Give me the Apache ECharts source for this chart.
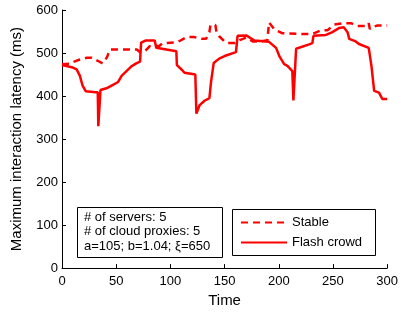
<!DOCTYPE html>
<html>
<head>
<meta charset="utf-8">
<script src="https://cdn.jsdelivr.net/npm/echarts@6/dist/echarts.min.js"></script>
<style>
  html, body { margin: 0; padding: 0; background: #fff; }
  #chart { width: 401px; height: 313px; }
</style>
</head>
<body>
<div id="chart"></div>
<script>
// 数据：读图估计 [时间, 延迟ms]
var stableData = [
    [0, 474], [7, 475], [10, 479], [16.5, 485], [23, 489], [27.5, 489],
    [33, 482], [37.5, 476], [41.5, 490], [44, 508], [69, 508], [72, 502],
    [76, 503], [81, 516], [90, 517], [93, 523], [106, 525], [108.5, 528],
    [115, 537], [122, 537], [129, 533], [133, 533], [136, 549], [137, 565],
    [141.5, 565], [142.5, 549], [145, 539], [150, 527], [152.5, 523],
    [159, 523], [164, 530], [170, 536], [176, 527], [184, 527], [189.5, 530],
    [191, 571], [192, 571], [196, 555], [203, 546], [222, 544], [231, 544],
    [239, 553], [245, 553], [251, 566], [258.5, 569], [267, 569], [272, 563],
    [277, 563], [282, 563], [283, 569], [284, 556], [286, 560], [291, 564],
    [300, 564]
];
var flashData = [
    [0, 472], [9, 467], [13.5, 462], [16.5, 447], [19, 424], [22, 411],
    [31, 409], [33, 409], [33.5, 330], [35, 330], [35.5, 414], [41, 418],
    [47, 426], [51.5, 432], [55, 447], [59.5, 458], [64, 469], [68.5, 476],
    [72, 480], [73, 524], [77, 529], [85.5, 529], [87, 512], [105.5, 504],
    [106, 472], [111, 460], [113, 454], [123, 450], [124, 359], [125, 362],
    [127, 379], [131.5, 389], [136, 395], [137.5, 433], [140, 477],
    [145, 487], [150, 493], [160.5, 502], [162, 540], [170, 541],
    [177.5, 529], [191, 526], [197.5, 512], [200.5, 493], [205, 474],
    [208, 470], [212.5, 458], [213.5, 390], [215, 390], [216, 510],
    [228, 520], [231, 523], [232, 540], [243.5, 542], [249, 548],
    [255.5, 558], [260, 560], [263.5, 548], [265, 533], [271, 527],
    [274, 521], [283, 512], [285.5, 470], [288, 412], [292.5, 408],
    [295.5, 393], [300, 393]
];
var seriesNames = ['Stable', 'Flash crowd'];
var infoLines = ['# of servers: 5', '# of cloud proxies: 5', 'a=105; b=1.04; \u03be=650'];

var FONT = '"Liberation Sans", Arial, sans-serif';
var RED = '#ff0000';

var myChart = echarts.init(document.getElementById('chart'));
var option = {
    animation: false,
    backgroundColor: '#fff',
    grid: { left: 62, right: 13, top: 10, bottom: 42 },
    xAxis: {
        type: 'value',
        min: 0, max: 300, interval: 50,
        name: 'Time',
        nameLocation: 'middle',
        nameGap: 23,
        nameTextStyle: { fontFamily: FONT, fontSize: 15, color: '#000' },
        axisLine: { show: true, lineStyle: { color: '#000', width: 1 } },
        axisTick: { show: true, inside: true, length: 4, lineStyle: { color: '#000' } },
        axisLabel: { fontFamily: FONT, fontSize: 13, color: '#000', margin: 7 },
        splitLine: { show: false }
    },
    yAxis: {
        type: 'value',
        min: 0, max: 600, interval: 100,
        name: 'Maximum interaction latency (ms)',
        nameLocation: 'middle',
        nameGap: 38,
        nameTextStyle: { fontFamily: FONT, fontSize: 15, color: '#000' },
        axisLine: { show: true, lineStyle: { color: '#000', width: 1 } },
        axisTick: { show: true, inside: true, length: 4, lineStyle: { color: '#000' } },
        axisLabel: { fontFamily: FONT, fontSize: 13, color: '#000', margin: 4 },
        splitLine: { show: false }
    },
    legend: {
        orient: 'vertical',
        left: 240,
        top: 216,
        padding: 0,
        itemWidth: 46,
        itemHeight: 12,
        itemGap: 7,
        data: seriesNames,
        itemStyle: { opacity: 0 },
        textStyle: { fontFamily: FONT, fontSize: 13, color: '#000', padding: [0, 0, 0, 0] }
    },
    graphic: [
        {
            type: 'rect',
            shape: { x: 77.5, y: 207.5, width: 145, height: 50 },
            style: { fill: '#fff', stroke: '#000', lineWidth: 1 },
            z: 10
        },
        {
            type: 'text',
            left: 84, top: 210,
            style: {
                text: infoLines.join('\n'),
                font: '13px ' + FONT,
                lineHeight: 14.5,
                fill: '#000'
            },
            z: 11
        },
        {
            type: 'rect',
            shape: { x: 232.5, y: 209.5, width: 143, height: 46 },
            style: { fill: 'none', stroke: '#000', lineWidth: 1 },
            z: 10
        }
    ],
    series: [
        {
            name: seriesNames[0],
            type: 'line',
            data: stableData,
            showSymbol: false,
            symbol: 'none',
            lineStyle: { color: RED, width: 2.5, type: [7, 5] },
            itemStyle: { color: RED }
        },
        {
            name: seriesNames[1],
            type: 'line',
            data: flashData,
            showSymbol: false,
            symbol: 'none',
            lineStyle: { color: RED, width: 2.5, type: 'solid' },
            itemStyle: { color: RED }
        }
    ]
};
myChart.setOption(option);
</script>
</body>
</html>
